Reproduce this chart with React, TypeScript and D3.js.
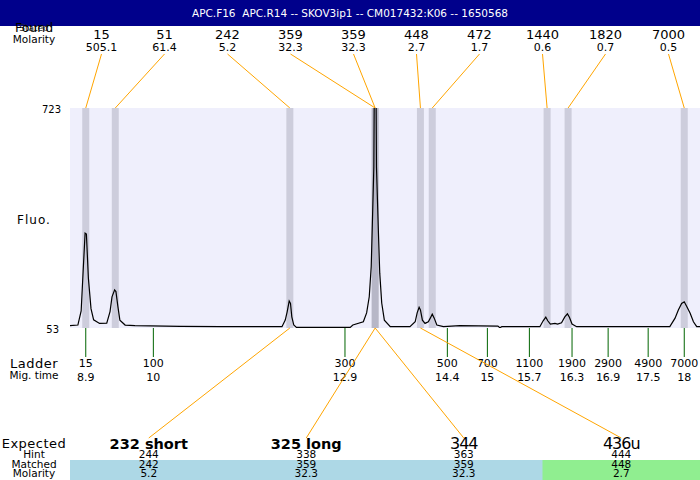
import * as d3 from "d3";

const title = "APC.F16  APC.R14 -- SKOV3ip1 -- CM017432:K06 -- 1650568";

// found peaks (top row)
const peakSizes = ["15", "51", "242", "359", "359", "448", "472", "1440", "1820", "7000"];
const peakMolarity = ["505.1", "61.4", "5.2", "32.3", "32.3", "2.7", "1.7", "0.6", "0.7", "0.5"];
const peakTimes = [8.89, 9.34, 12.0, 13.3, 13.3, 13.99, 14.17, 15.92, 16.24, 18.01];

// ladder
const ladderSizes = ["15", "100", "300", "500", "700", "1100", "1900", "2900", "4900", "7000"];
const ladderTimes = [8.89, 9.92, 12.84, 14.4, 15.01, 15.65, 16.3, 16.85, 17.46, 18.01];
const ladderTimeLabels = ["8.9", "10", "12.9", "14.4", "15", "15.7", "16.3", "16.9", "17.5", "18"];

// expected products
const expectedLabels = ["232 short", "325 long", "344", "436u"];
const expectedBold = [true, true, false, false];
const expectedHint = ["244", "338", "363", "444"];
const expectedMatched = ["242", "359", "359", "448"];
const expectedMolarity = ["5.2", "32.3", "32.3", "2.7"];
const expectedPeak = [2, 3, 4, 5];
const expectedFill = ["lightblue", "lightblue", "lightblue", "lightgreen"];

// electropherogram trace (mig. time, fluorescence)
const traceTime = [
  8.65, 8.77, 8.82, 8.85, 8.88, 8.9, 8.93, 8.97, 9.01, 9.1, 9.21, 9.26, 9.29, 9.33, 9.35, 9.38,
  9.41, 9.49, 9.64, 10.33, 10.94, 11.88, 11.93, 11.96, 11.99, 12.01, 12.03, 12.06, 12.1, 12.61,
  12.92, 12.96, 13.12, 13.17, 13.21, 13.24, 13.26, 13.28, 13.29, 13.3, 13.31, 13.32, 13.35, 13.37,
  13.4, 13.44, 13.53, 13.83, 13.91, 13.94, 13.97, 13.99, 14.02, 14.06, 14.11, 14.14, 14.17, 14.2,
  14.24, 14.34, 14.59, 15.17, 15.2, 15.23, 15.81, 15.86, 15.9, 15.93, 15.97, 16.04, 16.08, 16.14,
  16.19, 16.23, 16.26, 16.3, 16.37, 17.79, 17.87, 17.92, 17.97, 18.01, 18.05, 18.1, 18.15, 18.2,
  18.25,
];
const traceFluo = [
  60, 62, 105, 225, 342, 339, 205, 112, 78, 67, 68, 103, 148, 169, 164, 118,
  77, 62, 60, 58, 57, 57, 77, 103, 135, 128, 87, 62, 55, 55,
  55, 62, 72, 99, 148, 240, 392, 544, 900, 1000, 900, 543, 342, 220,
  129, 77, 57, 57, 72, 99, 116, 108, 77, 67, 72, 83, 95, 83,
  62, 57, 60, 59, 54, 57, 57, 75, 86, 75, 65, 67, 65, 69,
  87, 96, 86, 65, 57, 57, 83, 108, 128, 133, 118, 98, 72, 57,
  57,
];

const fluoTicks = [53, 723];
const timeDomain = [8.65, 18.25];

const W = 700;
const H = 480;
const left = 70;
const right = 700;
const top = 108;
const bottom = 328;
const font = "DejaVu Sans, sans-serif";

export default function App() {
  const x = d3.scaleLinear().domain(timeDomain).range([left, right]);
  const y = d3.scaleLinear().domain(fluoTicks).range([bottom, top]);
  const slot = d3.scaleBand<number>().domain(d3.range(peakSizes.length)).range([left, right]);
  const col = d3.scaleBand<number>().domain(d3.range(expectedLabels.length)).range([left, right]);

  const line = d3
    .line<number>()
    .x((i) => x(traceTime[i]))
    .y((i) => y(traceFluo[i]));
  const path = line(d3.range(traceTime.length)) || "";

  const slotX = (i: number) => slot(i)! + slot.bandwidth() / 2;
  const colX = (i: number) => col(i)! + col.bandwidth() / 2;

  return (
    <svg
      width={W}
      height={H}
      style={{ position: "absolute", left: 0, top: 0, fontFamily: font }}
    >
      <defs>
        <clipPath id="plot">
          <rect x={left} y={top} width={right - left} height={bottom - top} />
        </clipPath>
      </defs>

      {/* header */}
      <rect x={0} y={0} width={W} height={26} fill="#00008b" />
      <text
        x={W / 2}
        y={17}
        fill="white"
        fontSize={10.5}
        textAnchor="middle"
        style={{ whiteSpace: "pre" }}
      >
        {title}
      </text>

      {/* top row labels */}
      <text x={34} y={31} fontSize={9} textAnchor="middle" fill="#222">Stated</text>
      <text x={34} y={32} fontSize={12.5} textAnchor="middle">Found</text>
      <text x={34} y={43} fontSize={10.5} textAnchor="middle">Molarity</text>
      {peakSizes.map((s, i) => (
        <g key={"pk" + i}>
          <text x={slotX(i)} y={39} fontSize={13} textAnchor="middle">{s}</text>
          <text x={slotX(i)} y={51} fontSize={11} textAnchor="middle">{peakMolarity[i]}</text>
          <line x1={slotX(i)} y1={54} x2={x(peakTimes[i])} y2={top} stroke="orange" />
        </g>
      ))}

      {/* plot area */}
      <rect x={left} y={top} width={right - left} height={bottom - top} fill="#efeffc" />
      {peakTimes.map((t, i) => (
        <rect
          key={"band" + i}
          x={x(t) - 3.5}
          y={top}
          width={7}
          height={bottom - top}
          fill="#9090a0"
          opacity={0.35}
        />
      ))}
      <path d={path} fill="none" stroke="black" strokeWidth={1.2} clipPath="url(#plot)" />

      {/* y labels */}
      <text x={61} y={113} fontSize={10} textAnchor="end">{fluoTicks[1]}</text>
      <text x={59} y={333} fontSize={10} textAnchor="end">{fluoTicks[0]}</text>
      <text x={34} y={224} fontSize={12} textAnchor="middle" letterSpacing={1}>Fluo.</text>

      {/* ladder */}
      <text x={34} y={368} fontSize={13} textAnchor="middle" letterSpacing={0.5}>Ladder</text>
      <text x={34} y={379} fontSize={10.5} textAnchor="middle">Mig. time</text>
      {ladderTimes.map((t, i) => (
        <g key={"ld" + i}>
          <line x1={x(t)} y1={bottom} x2={x(t)} y2={357} stroke="#006400" />
          <text x={x(t)} y={367} fontSize={11} textAnchor="middle">{ladderSizes[i]}</text>
          <text x={x(t)} y={381} fontSize={11} textAnchor="middle">{ladderTimeLabels[i]}</text>
        </g>
      ))}

      {/* expected */}
      <text x={34} y={448} fontSize={13} textAnchor="middle" letterSpacing={0.5}>Expected</text>
      <text x={34} y={458} fontSize={10.5} textAnchor="middle">Hint</text>
      <text x={34} y={468} fontSize={10.5} textAnchor="middle">Matched</text>
      <text x={34} y={477} fontSize={10.5} textAnchor="middle">Molarity</text>
      {expectedLabels.map((lab, i) => (
        <rect
          key={"bg" + i}
          x={col(i)!}
          y={460}
          width={col.bandwidth() + 1}
          height={20}
          fill={expectedFill[i]}
        />
      ))}
      {expectedLabels.map((lab, i) => (
        <g key={"ex" + i}>
          <line
            x1={x(peakTimes[expectedPeak[i]])}
            y1={bottom}
            x2={colX(i)}
            y2={438}
            stroke="orange"
          />
          <text
            x={colX(i)}
            y={449}
            fontSize={expectedBold[i] ? 14.5 : 16}
            fontWeight={expectedBold[i] ? "bold" : "normal"}
            letterSpacing={expectedBold[i] ? 0 : -1}
            textAnchor="middle"
          >
            {lab}
          </text>
          <text x={colX(i)} y={458} fontSize={10.5} textAnchor="middle">{expectedHint[i]}</text>
          <text x={colX(i)} y={468} fontSize={10.5} textAnchor="middle">{expectedMatched[i]}</text>
          <text x={colX(i)} y={477} fontSize={10.5} textAnchor="middle">{expectedMolarity[i]}</text>
        </g>
      ))}
    </svg>
  );
}
